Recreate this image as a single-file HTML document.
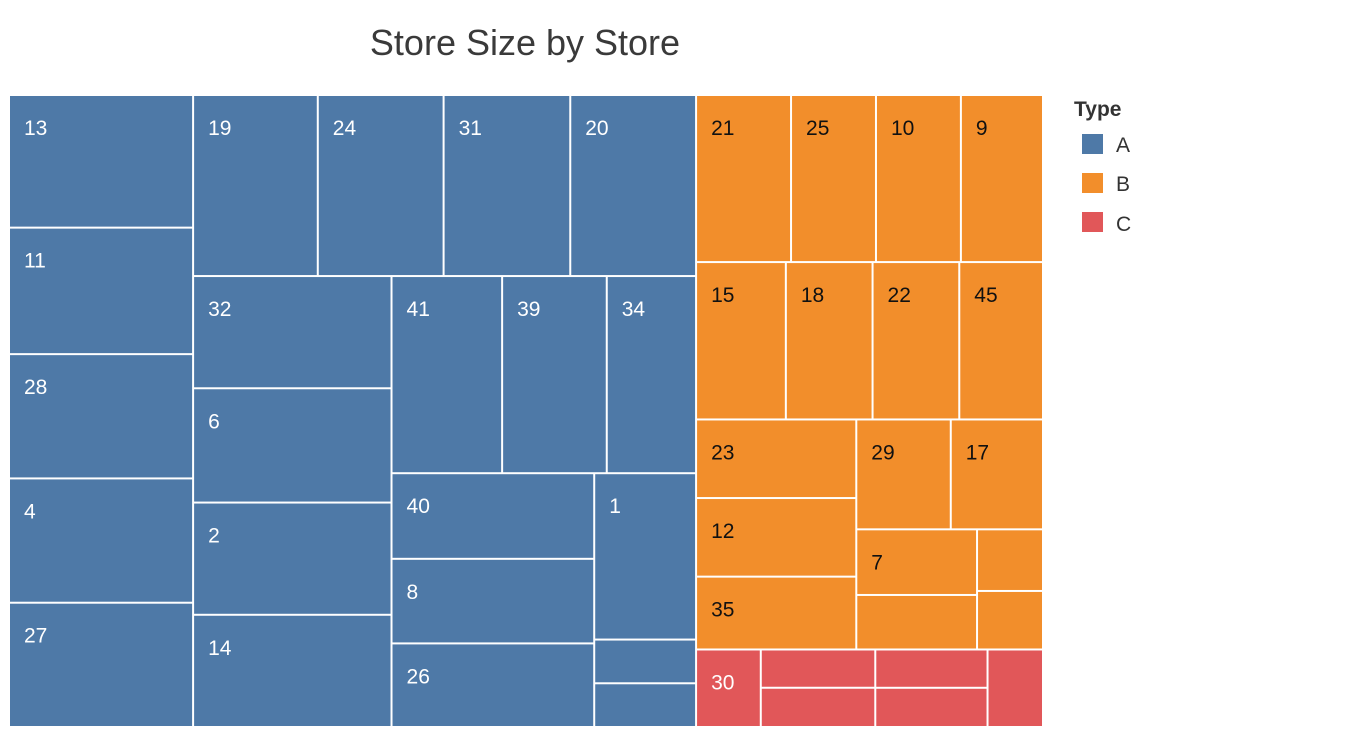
<!DOCTYPE html>
<html><head><meta charset="utf-8"><style>
body{margin:0;background:#fff;font-family:"Liberation Sans","DejaVu Sans",sans-serif;}
svg{display:block}
</style></head><body>
<svg id="chart" width="1352" height="736">
<text x="525" y="55" text-anchor="middle" font-size="36" fill="#3a3a3a">Store Size by Store</text>
<g>
<text x="1074" y="116" font-size="21" font-weight="bold" fill="#333">Type</text>
<g><rect x="1082" y="134" width="21" height="20" fill="#4e79a7"/><text x="1116" y="152" font-size="21" fill="#333">A</text></g>
<g><rect x="1082" y="173" width="21" height="20" fill="#f28e2b"/><text x="1116" y="191" font-size="21" fill="#333">B</text></g>
<g><rect x="1082" y="212" width="21" height="20" fill="#e15759"/><text x="1116" y="231" font-size="21" fill="#333">C</text></g>
</g>
<g id="cells"></g>
</svg>
<script>
const stores = [13,11,28,4,27,19,24,31,20,32,6,2,14,41,39,34,40,8,26,1,33,36,
  21,25,10,9,15,18,22,45,23,12,35,29,17,7,16,3,5,
  30,37,38,42,43,44];
const sizes = [23850,22750,22350,22350,22350,22050,22250,22400,22250,21750,22150,21750,21750,21300,20150,17200,16950,16750,16550,16550,4350,4350,
  15500,13860,13860,13400,13800,13330,13330,12870,12300,12300,11400,10140,9900,7740,6430,3970,3770,
  4900,4280,4390,4200,4300,4200];
const types = ['A','A','A','A','A','A','A','A','A','A','A','A','A','A','A','A','A','A','A','A','A','A',
  'B','B','B','B','B','B','B','B','B','B','B','B','B','B','B','B','B',
  'C','C','C','C','C','C'];
const colors = {A:'#4e79a7',B:'#f28e2b',C:'#e15759'};
const textColors = {A:'#fff',B:'#111',C:'#fff'};

const R=(...c)=>({d:'row',c}), C=(...c)=>({d:'col',c});
const tree = R(
  R(C(13,11,28,4,27), C(R(19,24,31,20), R(C(32,6,2,14), C(R(41,39,34), R(C(40,8,26), C(1,33,36)))))),
  C(
    C(R(21,25,10,9), R(15,18,22,45), R(C(23,12,35), C(R(29,17), R(C(7,16), C(3,5))))),
    R(30, C(37,38), C(42,43), 44)
  )
);
function val(n){ if(typeof n==='number') return sizes[stores.indexOf(n)]; return n.c.reduce((s,k)=>s+val(k),0); }
const g=document.getElementById('cells');
const NS='http://www.w3.org/2000/svg';
function layout(n,x,y,w,h){
  if(typeof n==='number'){
    const i=stores.indexOf(n), t=types[i];
    const r=document.createElementNS(NS,'rect');
    r.setAttribute('x',x+1);r.setAttribute('y',y+1);
    r.setAttribute('width',Math.max(0,w-2));r.setAttribute('height',Math.max(0,h-2));
    r.setAttribute('fill',colors[t]);
    
    
    g.appendChild(r);
    if(w>=60&&h>=62){
      const tx=document.createElementNS(NS,'text');
      tx.setAttribute('x',x+15);tx.setAttribute('y',y+40);
      tx.setAttribute('font-size','21');tx.setAttribute('fill',textColors[t]);
      tx.textContent=n;
      
      
      g.appendChild(tx);
    }
    return;
  }
  const tot=val(n); let off=0;
  n.c.forEach(k=>{
    const f=val(k)/tot;
    if(n.d==='row'){ layout(k,x+off,y,w*f,h); off+=w*f; }
    else { layout(k,x,y+off,w,h*f); off+=h*f; }
  });
}
layout(tree,9,95,1034,632);
</script>
</body></html>
